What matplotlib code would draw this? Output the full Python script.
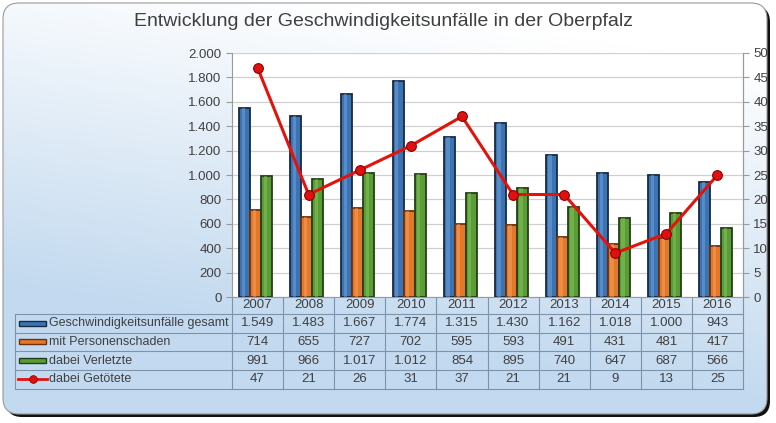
import numpy as np
import matplotlib
matplotlib.use("Agg")
from matplotlib import pyplot as plt
from matplotlib.patches import FancyBboxPatch
from matplotlib.lines import Line2D
from matplotlib.patches import Rectangle
import matplotlib.transforms as mtransforms

plt.rcParams['font.family'] = ['Liberation Sans', 'DejaVu Sans']

# --- data -----------------------------------------------------------------
years = ['2007', '2008', '2009', '2010', '2011', '2012', '2013', '2014', '2015', '2016']
gesamt = [1549, 1483, 1667, 1774, 1315, 1430, 1162, 1018, 1000, 943]
personenschaden = [714, 655, 727, 702, 595, 593, 491, 431, 481, 417]
verletzte = [991, 966, 1017, 1012, 854, 895, 740, 647, 687, 566]
getoetete = [47, 21, 26, 31, 37, 21, 21, 9, 13, 25]

title = 'Entwicklung der Geschwindigkeitsunfälle in der Oberpfalz'
series_names = ['Geschwindigkeitsunfälle gesamt', 'mit Personenschaden',
                'dabei Verletzte', 'dabei Getötete']

bar_colors = ['#3A74B5', '#E5772A', '#5A9C36']
bar_edges = ['#182A42', '#6A320E', '#243F17']
bar_light = ['#7FA9D9', '#F4A868', '#8FC96A']
line_color = '#E3120B'
txt = '#404040'

W, H = 776, 423


def fmt(v):
    return '{:,}'.format(int(v)).replace(',', '.')


fig = plt.figure(figsize=(W / 100, H / 100), dpi=100)

# --- background panel (pixel coordinates) --------------------------------
bg = fig.add_axes([0, 0, 1, 1])
bg.set_xlim(0, W)
bg.set_ylim(H, 0)
bg.axis('off')

shadow = FancyBboxPatch((6, 6), 764, 411, boxstyle='round,pad=0,rounding_size=16',
                        fc='#111111', ec='none', zorder=0)
bg.add_patch(shadow)
panel = FancyBboxPatch((3, 3), 764, 411, boxstyle='round,pad=0,rounding_size=16',
                       fc='none', ec='#9A9A9A', lw=0.8, zorder=2)
bg.add_patch(panel)
yy, xx = np.mgrid[0:H, 0:W]
t = np.clip(1.25 * (yy / H) + 0.35 * (1 - xx / W) - 0.2, 0, 1)
c0 = np.array([1.0, 1.0, 1.0])
c1 = np.array([0xC2, 0xD9, 0xEF]) / 255
grad = c0[None, None, :] * (1 - t[..., None]) + c1[None, None, :] * t[..., None]
im = bg.imshow(grad, extent=(0, W, H, 0), zorder=1, aspect='auto')
im.set_clip_path(panel)

bg.text(W / 2 - 4, 21, title, ha='center', va='center', fontsize=14, color=txt)

# --- main chart ----------------------------------------------------------
left, right, top, bottom = 232, 743, 53, 297
ax = fig.add_axes([left / W, 1 - bottom / H, (right - left) / W, (bottom - top) / H])
ax.set_facecolor('white')
x = np.arange(len(years))
bw = 0.215
offsets = [-bw - 0.035, -0.035, bw - 0.035]
for vals, off, fc, ec, lc in zip([gesamt, personenschaden, verletzte], offsets,
                                 bar_colors, bar_edges, bar_light):
    ax.bar(x + off, vals, width=bw, color=fc, edgecolor=ec, linewidth=1.3, zorder=3)
    ax.bar(x + off - bw * 0.12, vals, width=bw * 0.3, color=lc, alpha=0.45,
           linewidth=0, zorder=4)

ax.set_xlim(-0.5, len(years) - 0.5)
ax.set_ylim(0, 2000)
ax.set_yticks(np.arange(0, 2001, 200))
ax.set_yticklabels([fmt(v) for v in np.arange(0, 2001, 200)])
ax.set_xticks([])
ax.grid(axis='y', color='#D0D0D0', linewidth=0.9, zorder=0)
ax.set_axisbelow(True)
for s in ['top']:
    ax.spines[s].set_visible(False)
for s in ['left', 'right', 'bottom']:
    ax.spines[s].set_color('#9A9A9A')
ax.tick_params(axis='y', colors='#9A9A9A', labelcolor=txt, labelsize=9.5, length=4)

ax2 = ax.twinx()
ax2.plot(x, getoetete, color=line_color, linewidth=2.2, marker='o', markersize=7,
         markerfacecolor='#E01010', markeredgecolor='#8A0000', markeredgewidth=0.8,
         zorder=5)
ax2.set_ylim(0, 50)
ax2.set_yticks(np.arange(0, 51, 5))
for s in ['top', 'left', 'bottom']:
    ax2.spines[s].set_visible(False)
ax2.spines['right'].set_color('#9A9A9A')
ax2.tick_params(axis='y', colors='#9A9A9A', labelcolor=txt, labelsize=9.5, length=4)

# --- data table ----------------------------------------------------------
tr = mtransforms.blended_transform_factory(ax.transData, bg.transData)
grid_c = '#7D93AA'
row_y = [314, 332.7, 351.3, 370, 388.7]
header_y = 305.5
tab_left = 15
for i in range(len(years) + 1):
    bg.add_line(Line2D([i - 0.5, i - 0.5], [bottom, row_y[-1]], transform=tr,
                       color=grid_c, lw=0.8, zorder=3))
for yv in row_y:
    bg.add_line(Line2D([tab_left, right], [yv, yv], color=grid_c, lw=0.8, zorder=3))
bg.add_line(Line2D([tab_left, tab_left], [row_y[0], row_y[-1]], color=grid_c, lw=0.8, zorder=3))

for i, yr in enumerate(years):
    bg.text(i, header_y, yr, transform=tr, ha='center', va='center', fontsize=9.5, color=txt, zorder=4)

rows = [gesamt, personenschaden, verletzte, getoetete]
for r, vals in enumerate(rows):
    yc = (row_y[r] + row_y[r + 1]) / 2
    for i, v in enumerate(vals):
        bg.text(i, yc, fmt(v), transform=tr, ha='center', va='center', fontsize=9.5,
                color=txt, zorder=4)
    bg.text(49, yc, series_names[r], ha='left', va='center', fontsize=9, color=txt, zorder=4)
    if r < 3:
        bg.add_patch(Rectangle((19, yc - 2.5), 27, 5, fc=bar_colors[r], ec=bar_edges[r],
                               lw=1.0, zorder=4))
    else:
        bg.add_line(Line2D([18, 47], [yc, yc], color=line_color, lw=2, zorder=4))
        bg.add_line(Line2D([32.5], [yc], marker='o', markersize=5.5, color='#E01010',
                           markeredgecolor='#8A0000', markeredgewidth=0.6, zorder=5))

fig.savefig('out.png', dpi=100)
